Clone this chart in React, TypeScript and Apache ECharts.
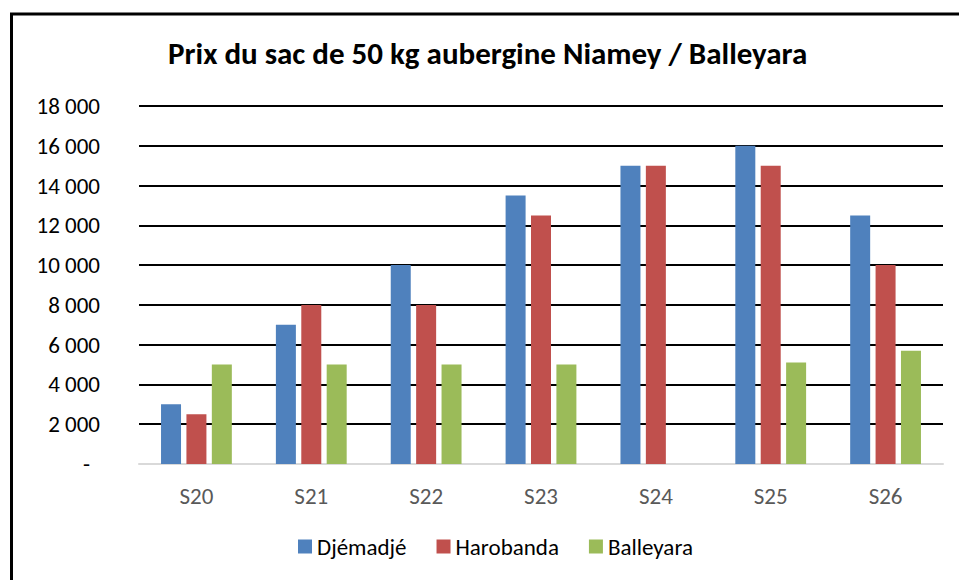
import React, { useEffect, useRef } from "react";
import * as echarts from "echarts";

const categories = ["S20", "S21", "S22", "S23", "S24", "S25", "S26"];
const djemadje = [3000, 7000, 10000, 13500, 15000, 16000, 12500];
const harobanda = [2500, 8000, 8000, 12500, 15000, 15000, 10000];
const balleyara: (number | null)[] = [5000, 5000, 5000, 5000, null, 5100, 5700];
const seriesNames = ["Djémadjé", "Harobanda", "Balleyara"];
const colors = ["#4F81BD", "#C0504D", "#9BBB59"];
const titleText = "Prix du sac de 50 kg aubergine Niamey / Balleyara";

const FONT = "Carlito, Lato, 'Noto Sans', sans-serif";

function fmt(v: number): string {
  if (v === 0) return "{z|-}";
  return String(v).replace(/\B(?=(\d{3})+(?!\d))/g, " ");
}

export default function App() {
  const ref = useRef<HTMLDivElement>(null);
  useEffect(() => {
    if (!ref.current) return;
    const chart = echarts.init(ref.current, undefined, { renderer: "svg" });
    const data = [djemadje, harobanda, balleyara];
    chart.setOption({
      animation: false,
      backgroundColor: "#ffffff",
      title: {
        text: titleText,
        left: 168,
        top: 37,
        padding: 0,
        textStyle: { fontFamily: FONT, fontWeight: "bold", fontSize: 31, color: "#000" },
      },
      graphic: [
        {
          type: "rect",
          shape: { x: 11.5, y: 14, width: 970, height: 600 },
          style: { fill: "none", stroke: "#000", lineWidth: 3 },
          silent: true,
        },
      ],
      legend: {
        data: seriesNames,
        left: 298,
        top: 535,
        padding: 0,
        itemWidth: 14,
        itemHeight: 14,
        itemGap: 30,
        icon: "rect",
        textStyle: { fontFamily: FONT, fontSize: 23, color: "#000" },
      },
      grid: { left: 139, right: 16, top: 106, bottom: 116, containLabel: false },
      xAxis: {
        type: "category",
        data: categories,
        axisLine: { lineStyle: { color: "#d9d9d9", width: 2 } },
        axisTick: { show: false },
        axisLabel: { fontFamily: FONT, fontSize: 23, color: "#595959", margin: 20 },
      },
      yAxis: {
        type: "value",
        min: 0,
        max: 18000,
        interval: 2000,
        axisLine: { show: false },
        axisTick: { show: false },
        splitLine: { lineStyle: { color: "#000", width: 2 } },
        axisLabel: {
          fontFamily: FONT,
          fontSize: 23,
          color: "#000",
          margin: 39,
          formatter: fmt,
          rich: { z: { fontFamily: FONT, fontSize: 23, color: "#000", padding: [0, 10, 0, 0] } },
        },
      },
      series: seriesNames.map((n, i) => ({
        name: n,
        type: "bar",
        data: data[i],
        barWidth: 20,
        barGap: "27%",
        itemStyle: { color: colors[i] },
      })),
    });
    return () => chart.dispose();
  }, []);
  return (
    <div
      ref={ref}
      style={{ position: "fixed", left: 0, top: 0, width: 959, height: 580 }}
    />
  );
}
